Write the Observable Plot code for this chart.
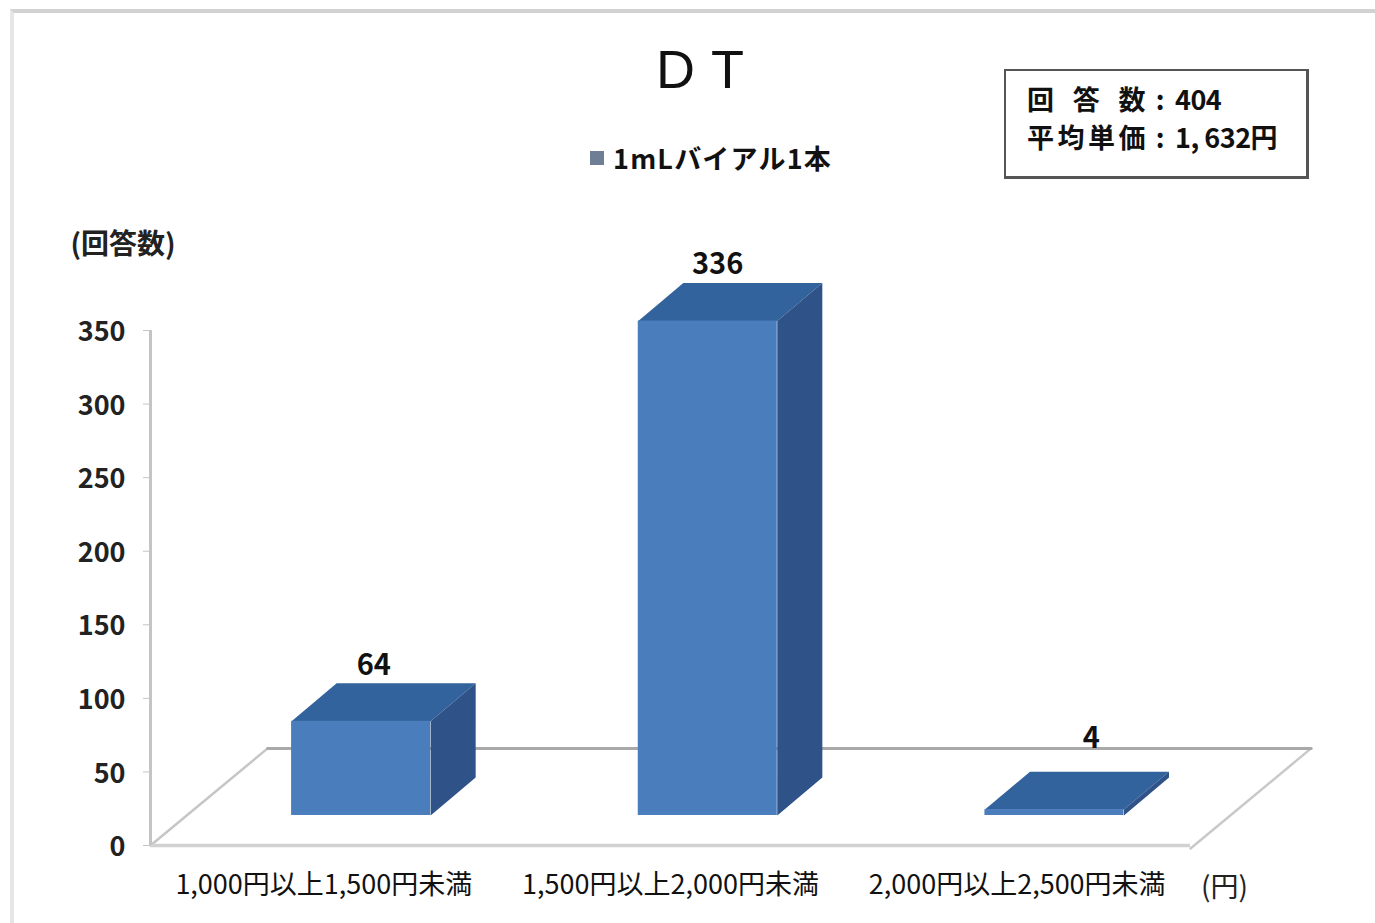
<!DOCTYPE html>
<html lang="ja">
<head>
<meta charset="utf-8">
<script src="https://cdn.jsdelivr.net/npm/d3@7"></script>
<script src="https://cdn.jsdelivr.net/npm/@observablehq/plot@0.6"></script>
<style>
  html, body { margin: 0; padding: 0; background: #fff; }
  body { width: 1375px; height: 923px; overflow: hidden; position: relative;
         font-family: "Noto Sans CJK JP", "Noto Sans", sans-serif; color: #111; }
  #frame { position: absolute; left: 10px; top: 9px; right: 0; bottom: 0;
           border-top: 4px solid #d2d2d2; border-left: 4px solid #e6e6e6; pointer-events: none; }
  #header { position: relative; height: 225px; }
  #title { position: absolute; left: 600px; width: 200px; top: 36px; text-align: center;
           font: 400 54px/66px "Liberation Sans", sans-serif; word-spacing: 2px; }
  #legend { position: absolute; left: 590px; top: 138px; display: flex; align-items: center;
            font-size: 27px; font-weight: 700; line-height: 40px; white-space: nowrap; letter-spacing: 1.2px; }
  #legend i { display: block; width: 14px; height: 14px; background: #6e7f95; margin-right: 9px; }
  #note { position: absolute; left: 1004px; top: 69px; width: 300px; height: 105px;
          border: 2px solid #555; border-bottom-width: 3px; border-right-width: 3px;
          font-size: 27px; font-weight: 700; line-height: 38px; box-sizing: content-box; }
  #note > div { position: absolute; left: 21px; white-space: nowrap; letter-spacing: -0.5px; }
  #note .k { display: inline-block; width: 118px; text-align: justify; text-align-last: justify; }
  #note .c { display: inline-block; width: 30px; text-align: center; }
  #chart { position: absolute; left: 0; top: 225px; }
  #chart svg { overflow: visible; }
</style>
</head>
<body>
<div id="header">
  <div id="title">D T</div>
  <div id="legend"><i></i><span id="legendText"></span></div>
  <div id="note"></div>
</div>
<div id="chart"></div>
<div id="frame"></div>
<script>
// Data
const categories = ["1,000円以上1,500円未満", "1,500円以上2,000円未満", "2,000円以上2,500円未満"];
const counts = [64, 336, 4];
const yTicks = [0, 50, 100, 150, 200, 250, 300, 350];
const seriesName = "1mLバイアル1本";
const noteLabels = ["回 答 数", "平均単価"];
const noteValues = ["404", "1, 632円"];
const yLabel = "(回答数)";
const xUnit = "(円)";

// 3D look, expressed in scale units
const barStart = 0.407, barWidth = 0.401;   // front face inside each category
const barBase = 20.4;                       // front edge of the bars above the floor edge
const barDepthX = 0.13, barDepthY = 25.8;   // bar depth
const floorDepthX = 0.338, floorDepthY = 66;// floor depth
const labelShiftX = [0.144, 0.136, 0.214];
const labelLift = [11.7, 12.2, 22.5];

const colors = { front: "#4a7dbb", top: "#33639c", side: "#2f5288" };

document.getElementById("legendText").textContent = seriesName;
const note = document.getElementById("note");
noteLabels.forEach((label, i) => {
  const row = document.createElement("div");
  row.style.top = (9 + i * 38) + "px";
  [["k", label], ["c", ":"], ["v", noteValues[i]]].forEach(([cls, txt]) => {
    const s = document.createElement("span");
    s.className = cls;
    s.textContent = txt;
    row.appendChild(s);
  });
  note.appendChild(row);
});

const bars = counts.map((v, i) => {
  const x1 = i + barStart, x2 = x1 + barWidth, y1 = barBase, y2 = barBase + v;
  return { i, v, x1, x2, y1, y2 };
});
const face = (name, pts) => pts.map(([x, y]) => ({ name, x, y }));
const topFaces = bars.flatMap(b => face("t" + b.i, [
  [b.x1, b.y2], [b.x2, b.y2], [b.x2 + barDepthX, b.y2 + barDepthY], [b.x1 + barDepthX, b.y2 + barDepthY]
]));
const sideFaces = bars.flatMap(b => face("s" + b.i, [
  [b.x2, b.y1], [b.x2, b.y2], [b.x2 + barDepthX, b.y2 + barDepthY], [b.x2 + barDepthX, b.y1 + barDepthY]
]));
const xMax = categories.length;
const polyOpts = { x: "x", y: "y", z: "name", strokeWidth: 0, curve: "linear-closed" };

const plot = Plot.plot({
  width: 1375,
  height: 698,
  marginLeft: 150,
  marginRight: 185,
  marginTop: 105,
  marginBottom: 78,
  style: { fontFamily: '"Noto Sans CJK JP", sans-serif', color: "#111", background: "transparent", overflow: "visible" },
  x: { domain: [0, xMax], axis: null },
  y: { domain: [0, 350], axis: null },
  marks: [
    // floor
    Plot.line([[0, 0], [floorDepthX, floorDepthY]], { stroke: "#c6c6c6", strokeWidth: 2.5 }),
    Plot.line([[xMax, -2], [xMax + floorDepthX + 0.01, floorDepthY]], { stroke: "#c9c9c9", strokeWidth: 2.5 }),
    Plot.line([[floorDepthX, floorDepthY], [xMax + floorDepthX + 0.01, floorDepthY]], { stroke: "#a9a9a9", strokeWidth: 3 }),
    Plot.ruleY([0], { x1: 0, x2: xMax, stroke: "#d2d2d2", strokeWidth: 3.5 }),
    Plot.ruleX([0], { y1: 0, y2: 350, stroke: "#c4c4c4", strokeWidth: 3 }),
    // axes
    Plot.axisY({ ticks: yTicks, tickSize: 7, tickFormat: () => "", stroke: "#c4c4c4", label: null }),
    Plot.axisY({ ticks: yTicks, tickSize: 0, tickPadding: 25, dy: 2, fill: "#222", fontSize: 27, fontWeight: 700, label: null }),
    Plot.axisX({ ticks: categories.map((_, i) => i + 0.5), tickFormat: d => categories[Math.floor(d)], tickSize: 0, tickPadding: 29, fill: "#111", fontSize: 27, label: null }),
    // bars
    Plot.line(topFaces, { ...polyOpts, fill: colors.top }),
    Plot.line(sideFaces, { ...polyOpts, fill: colors.side }),
    Plot.rect(bars, { x1: "x1", x2: "x2", y1: "y1", y2: "y2", fill: colors.front }),
    // value labels
    Plot.text(bars, {
      x: d => d.i + 0.5 + labelShiftX[d.i],
      y: d => d.y2 + barDepthY + labelLift[d.i],
      text: "v", fontSize: 29, fontWeight: 700, fill: "#111"
    }),
    // unit labels
    Plot.text([xUnit], { x: xMax, y: 0, text: d => d, dx: 34, dy: 43, fontSize: 28, fill: "#222" }),
    Plot.text([yLabel], { x: 0, y: 350, text: d => d, dx: -80, dy: -85, textAnchor: "start", fontSize: 28, fontWeight: 700, fill: "#222" })
  ]
});
document.getElementById("chart").appendChild(plot);
</script>
</body>
</html>
